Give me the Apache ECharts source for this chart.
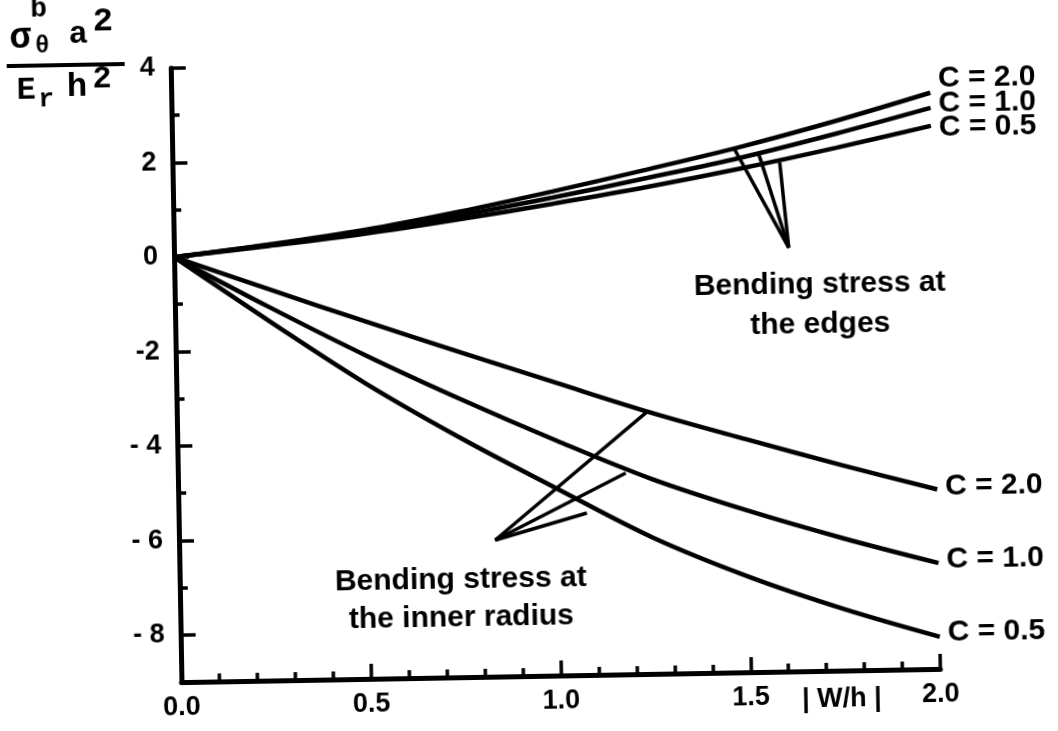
<!DOCTYPE html>
<html>
<head>
<meta charset="utf-8">
<script src="https://cdn.jsdelivr.net/npm/echarts@6/dist/echarts.min.js"></script>
<style>
html,body{margin:0;padding:0;background:#fff;overflow:hidden;width:1058px;height:731px;}
#chart{position:absolute;left:-30px;top:-30px;width:1118px;height:791px;transform:rotate(-1deg);}
</style>
</head>
<body>
<div id="chart"></div>
<script>
// ---- data ----
const wh = [0, 0.25, 0.5, 0.75, 1.0, 1.25, 1.5, 1.75, 2.0];
const edgeC20 = [0, 0.23, 0.5, 0.85, 1.25, 1.68, 2.13, 2.64, 3.2];
const edgeC10 = [0, 0.22, 0.46, 0.77, 1.12, 1.5, 1.9, 2.37, 2.88];
const edgeC05 = [0, 0.2, 0.42, 0.69, 0.99, 1.31, 1.67, 2.07, 2.5];
const innerC20 = [0, -0.72, -1.43, -2.12, -2.8, -3.47, -4.07, -4.65, -5.2];
const innerC10 = [0, -1.1, -2.15, -3.12, -4.03, -4.88, -5.58, -6.2, -6.76];
const innerC05 = [0, -1.4, -2.75, -3.95, -5.05, -6.12, -6.98, -7.7, -8.32];

const yTickValues = [-8, -6, -4, -2, 0, 2, 4];
const yTickLabels = ['- 8', '- 6', '- 4', '-2', '0', '2', '4'];
const yMinorTicks = [-7, -5, -3, -1, 1, 3];

// annotation pointers (data coordinates)
const edgeApex = [1.62, -0.03];
const edgeEnds = [[1.48, 2.1], [1.545, 1.97], [1.6, 1.78]];
const innerApex = [0.833, -6.11];
const innerEnds = [[1.239, -3.45], [1.18, -4.74], [1.076, -5.57]];

const FONT = '"Liberation Sans", Arial, sans-serif';
const MONO = '"Liberation Mono", "DejaVu Sans Mono", monospace';

function pairs(ys) { return wh.map((x, i) => [x, ys[i]]); }

function curve(name, ys, dy) {
  return {
    type: 'line', name: name, data: pairs(ys), smooth: 0.35, symbol: 'none',
    lineStyle: { color: '#000', width: 4.5 },
    endLabel: {
      show: true, formatter: name, color: '#000', fontFamily: FONT,
      fontWeight: 'bold', fontSize: 30, distance: 8, offset: [0, dy]
    },
    z: 3
  };
}

const pointerLines = [];
edgeEnds.forEach(e => pointerLines.push([{ coord: edgeApex }, { coord: e }]));
innerEnds.forEach(e => pointerLines.push([{ coord: innerApex }, { coord: e }]));

const series = [
  curve('C = 2.0', edgeC20, -14),
  curve('C = 1.0', edgeC10, -4),
  curve('C = 0.5', edgeC05, 2),
  curve('C = 2.0', innerC20, -3),
  curve('C = 1.0', innerC10, -3),
  curve('C = 0.5', innerC05, -4)
];
series[0].markLine = {
  silent: true, symbol: ['none', 'none'], animation: false,
  label: { show: false },
  lineStyle: { color: '#000', width: 3.5, type: 'solid' },
  data: pointerLines
};

function txt(x, y, text, size, family, extra) {
  return {
    type: 'text', x: x, y: y, silent: true,
    style: Object.assign({
      text: text, fill: '#000', align: 'center', verticalAlign: 'middle',
      font: 'bold ' + size + 'px ' + family
    }, extra || {})
  };
}

const chart = echarts.init(document.getElementById('chart'), null, { renderer: 'canvas' });
chart.setOption({
  animation: false,
  backgroundColor: '#fff',
  grid: { left: 206, right: 153, top: 92, bottom: 85 },
  xAxis: {
    type: 'value', min: 0, max: 2, interval: 0.5,
    axisLine: { show: true, onZero: false, lineStyle: { color: '#000', width: 5 } },
    axisTick: { show: true, inside: true, length: 15, lineStyle: { color: '#000', width: 3.5 } },
    minorTick: { show: true, splitNumber: 5, length: 8, lineStyle: { color: '#000', width: 3.5 } },
    splitLine: { show: false },
    axisLabel: {
      margin: 12, color: '#000', fontFamily: FONT, fontWeight: 'bold', fontSize: 27,
      formatter: v => v.toFixed(1)
    }
  },
  yAxis: [{
    type: 'value', min: -9, max: 4, interval: 1,
    axisLine: { show: true, onZero: false, lineStyle: { color: '#000', width: 5 } },
    axisTick: { show: true, inside: true, length: 15, customValues: yTickValues,
      lineStyle: { color: '#000', width: 3.5 } },
    splitLine: { show: false },
    axisLabel: {
      margin: 16, color: '#000', fontFamily: FONT, fontWeight: 'bold', fontSize: 27,
      customValues: yTickValues,
      formatter: v => { const i = yTickValues.indexOf(Math.round(v)); return i >= 0 ? yTickLabels[i] : ''; }
    }
  }, {
    type: 'value', min: -9, max: 4, interval: 1, position: 'left',
    axisLine: { show: false, onZero: false },
    axisTick: { show: true, inside: true, length: 8, customValues: yMinorTicks,
      lineStyle: { color: '#000', width: 3.5 } },
    splitLine: { show: false },
    axisLabel: { show: false }
  }],
  series: series,
  graphic: [
    // y-axis title: sigma_theta^b a^2 / (E_r h^2)
    txt(56, 60, 'σ', 36, MONO),
    txt(75, 31, 'b', 28, MONO),
    txt(78, 68, 'θ', 24, MONO),
    txt(114, 57, 'a', 32, MONO),
    txt(139, 44, '2', 34, MONO),
    { type: 'line', silent: true, shape: { x1: 42, y1: 87, x2: 160, y2: 87 },
      style: { stroke: '#000', lineWidth: 4 } },
    txt(61, 112, 'E', 32, MONO),
    txt(81, 121, 'r', 26, MONO),
    txt(112, 109, 'h', 34, MONO),
    txt(137, 102, '2', 32, MONO),
    // axis name
    txt(866, 735, '| W/h |', 27, FONT),
    // annotations
    txt(851, 340, 'Bending stress at\nthe edges', 30, FONT, { lineHeight: 40 }),
    txt(487, 628, 'Bending stress at\nthe inner radius', 30, FONT, { lineHeight: 38 })
  ]
});
</script>
</body>
</html>
